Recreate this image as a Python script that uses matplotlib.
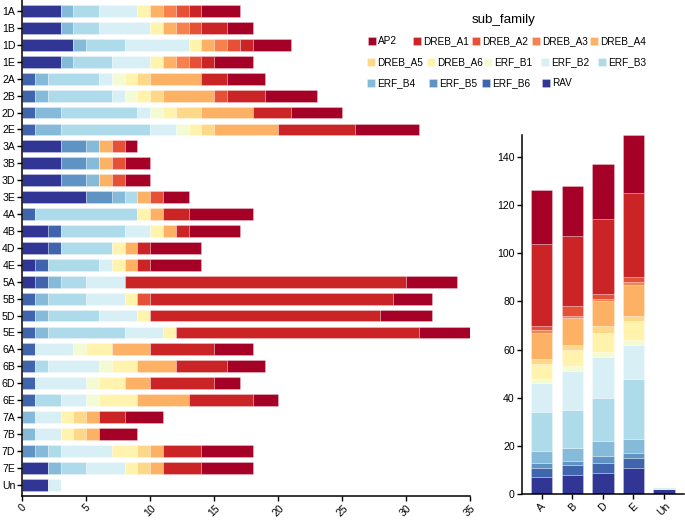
import numpy as np
import pandas as pd
import matplotlib
matplotlib.use('Agg')
import matplotlib.pyplot as plt
from matplotlib.patches import Rectangle

plt.rcParams['font.family'] = ['Liberation Sans', 'DejaVu Sans']

# chromosomes (rows of the left panel, top to bottom)
chroms = ['1A', '1B', '1D', '1E', '2A', '2B', '2D', '2E', '3A', '3B', '3D', '3E',
          '4A', '4B', '4D', '4E', '5A', '5B', '5D', '5E', '6A', '6B', '6D', '6E',
          '7A', '7B', '7D', '7E', 'Un']

# gene counts per sub family, one value per chromosome (same order as chroms)
RAV     = [3, 3, 4, 3, 0, 0, 0, 0, 3, 3, 3, 5, 0, 2, 2, 1, 1, 0, 0, 0, 0, 0, 0, 0, 0, 0, 0, 2, 2]
ERF_B6  = [0, 0, 0, 0, 1, 1, 1, 1, 0, 0, 0, 0, 1, 1, 1, 1, 1, 1, 1, 1, 1, 1, 1, 1, 0, 0, 0, 0, 0]
ERF_B5  = [0, 0, 0, 0, 0, 0, 0, 0, 2, 2, 2, 2, 0, 0, 0, 0, 0, 0, 0, 0, 0, 0, 0, 0, 0, 0, 1, 0, 0]
ERF_B4  = [1, 1, 1, 1, 1, 1, 2, 2, 1, 1, 1, 1, 0, 0, 0, 0, 1, 1, 1, 1, 0, 0, 0, 0, 1, 1, 1, 1, 0]
ERF_B3  = [2, 2, 3, 3, 4, 5, 6, 7, 0, 0, 0, 1, 8, 5, 4, 4, 2, 3, 4, 6, 0, 1, 0, 2, 0, 0, 1, 2, 0]
ERF_B2  = [3, 4, 5, 3, 1, 1, 1, 2, 0, 0, 0, 0, 0, 2, 0, 1, 3, 3, 3, 3, 3, 4, 4, 2, 2, 2, 4, 3, 1]
ERF_B1  = [0, 0, 0, 0, 1, 1, 1, 1, 0, 0, 0, 0, 0, 0, 0, 0, 0, 0, 0, 0, 1, 1, 1, 1, 0, 0, 0, 0, 0]
DREB_A6 = [1, 1, 1, 1, 1, 1, 1, 1, 0, 0, 0, 0, 1, 1, 1, 1, 0, 1, 1, 1, 2, 2, 2, 3, 1, 1, 2, 1, 0]
DREB_A5 = [0, 0, 0, 0, 1, 1, 2, 1, 0, 0, 0, 0, 0, 0, 0, 0, 0, 0, 0, 0, 0, 0, 0, 0, 1, 1, 1, 1, 0]
DREB_A4 = [1, 1, 1, 1, 4, 4, 4, 5, 1, 1, 1, 1, 1, 1, 1, 1, 0, 0, 0, 0, 3, 3, 2, 4, 1, 1, 1, 1, 0]
DREB_A3 = [1, 1, 1, 1, 0, 0, 0, 0, 0, 0, 0, 0, 0, 0, 0, 0, 0, 0, 0, 0, 0, 0, 0, 0, 0, 0, 0, 0, 0]
DREB_A2 = [1, 1, 1, 1, 0, 1, 0, 0, 1, 1, 1, 1, 0, 0, 0, 0, 0, 1, 0, 0, 0, 0, 0, 0, 0, 0, 0, 0, 0]
DREB_A1 = [1, 2, 1, 1, 2, 3, 3, 6, 0, 0, 0, 0, 2, 1, 1, 1, 22, 19, 18, 19, 5, 4, 5, 5, 2, 0, 3, 3, 0]
AP2     = [3, 2, 3, 3, 3, 4, 4, 5, 1, 2, 2, 2, 5, 4, 4, 4, 4, 3, 4, 4, 3, 3, 2, 2, 3, 3, 4, 4, 0]

sub_families = ['AP2', 'DREB_A1', 'DREB_A2', 'DREB_A3', 'DREB_A4', 'DREB_A5', 'DREB_A6',
                'ERF_B1', 'ERF_B2', 'ERF_B3', 'ERF_B4', 'ERF_B5', 'ERF_B6', 'RAV']
genomes = ['A', 'B', 'D', 'E', 'Un']

df = pd.DataFrame({
    'AP2': AP2, 'DREB_A1': DREB_A1, 'DREB_A2': DREB_A2, 'DREB_A3': DREB_A3,
    'DREB_A4': DREB_A4, 'DREB_A5': DREB_A5, 'DREB_A6': DREB_A6, 'ERF_B1': ERF_B1,
    'ERF_B2': ERF_B2, 'ERF_B3': ERF_B3, 'ERF_B4': ERF_B4, 'ERF_B5': ERF_B5,
    'ERF_B6': ERF_B6, 'RAV': RAV}, index=chroms)

# totals per genome for the right panel
genome_of = [c if c == 'Un' else c[-1] for c in chroms]
df_genome = df.groupby(genome_of).sum().reindex(genomes)

colors = dict(zip(sub_families, plt.cm.RdYlBu(np.linspace(0, 1, len(sub_families)))))
stack_order = sub_families[::-1]   # RAV first (left / bottom)

W, H = 685, 520
fig = plt.figure(figsize=(W / 100, H / 100), dpi=100)

tick_fs = 7.6
edge = dict(edgecolor=(1, 1, 1, 0.45), linewidth=0.4)

# ---- left panel: per chromosome ----
ax1 = fig.add_axes([22.3 / W, 1 - 495.7 / H, (470 - 22.3) / W, 495.7 / H])
y = np.arange(len(chroms))
left = np.zeros(len(chroms))
for sf in stack_order:
    vals = df[sf].values
    ax1.barh(y, vals, left=left, height=0.7, color=colors[sf], **edge)
    left += vals
ax1.set_ylim(len(chroms) - 1 + 0.65, -0.65)
ax1.set_xlim(0, 35)
ax1.set_yticks(y)
ax1.set_yticklabels(chroms)
ax1.set_xticks(np.arange(0, 36, 5))
ax1.set_xticklabels([str(v) for v in range(0, 36, 5)], rotation=45, ha='center', va='top')

# ---- right panel: per genome ----
ax2 = fig.add_axes([521.7 / W, 1 - 494.3 / H, (684 - 521.7) / W, (494.3 - 135) / H])
x = np.arange(len(genomes))
bottom = np.zeros(len(genomes))
for sf in stack_order:
    vals = df_genome[sf].values
    ax2.bar(x, vals, bottom=bottom, width=0.7, color=colors[sf], **edge)
    bottom += vals
ax2.set_xlim(-0.65, len(genomes) - 1 + 0.65)
ax2.set_ylim(0, 149)
ax2.set_yticks(np.arange(0, 141, 20))
ax2.set_xticks(x)
ax2.set_xticklabels(genomes, rotation=45, ha='center', va='top')

for ax in (ax1, ax2):
    for s in ('top', 'right'):
        ax.spines[s].set_visible(False)
    for s in ('left', 'bottom'):
        ax.spines[s].set_linewidth(1.1)
    ax.tick_params(direction='out', length=3.5, width=1.0, labelsize=tick_fs, pad=1.5)

# ---- legend (flowing rows, as in the original) ----
legend_rows = [sub_families[0:5], sub_families[5:10], sub_families[10:14]]
legend_x = [[367.7, 412.7, 472, 531.7, 590],
            [366.7, 426.7, 484, 541, 598],
            [367, 429, 481.7, 541.7]]
legend_y = [41, 62, 83]
box = 8
fig.text(504 / W, 1 - 20 / H, 'sub_family', ha='center', va='center', fontsize=9.6)
for names, xs, yy in zip(legend_rows, legend_x, legend_y):
    for name, xx in zip(names, xs):
        fig.patches.append(Rectangle((xx / W, 1 - (yy + box / 2) / H), box / W, box / H,
                                     transform=fig.transFigure, facecolor=colors[name],
                                     edgecolor=(1, 1, 1, 0.45), linewidth=0.4))
        fig.text((xx + box + 2.5) / W, 1 - yy / H, name, ha='left', va='center',
                 fontsize=7.2)

fig.savefig('out.png', dpi=100)
